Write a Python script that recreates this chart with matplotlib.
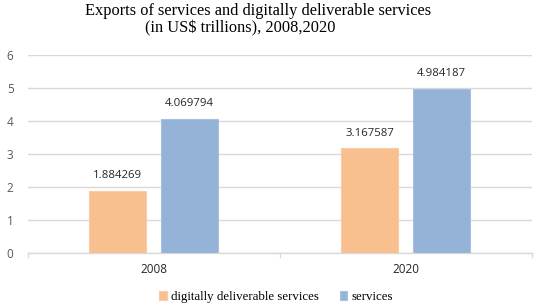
import matplotlib.pyplot as plt
import numpy as np

years = ['2008', '2020']
digital = [1.884269, 3.167587]
services = [4.069794, 4.984187]
labels = ['digitally deliverable services', 'services']

orange = '#F8C08F'
blue = '#95B3D7'

fig = plt.figure(figsize=(5.36, 3.08), dpi=100)
ax = fig.add_axes([27.5 / 536, 1 - 253 / 308, 504 / 536, 198 / 308])

x = np.arange(len(years))
w = 0.226
off = 0.142
b1 = ax.bar(x - off, digital, w, color=orange, edgecolor='#F9CCA5', linewidth=0.8, label=labels[0], zorder=3)
b2 = ax.bar(x + off, services, w, color=blue, edgecolor='#A9C1DF', linewidth=0.8, label=labels[1], zorder=3)

for bars, vals in ((b1, digital), (b2, services)):
    for r, v in zip(bars, vals):
        ax.annotate(f'{v:.6f}', (r.get_x() + r.get_width() / 2, v), xytext=(0, 7),
                    textcoords='offset points', ha='center', va='bottom',
                    fontsize=8.2, color='#262626', family='Open Sans')

ax.set_xlim(-0.5, 1.5)
ax.set_ylim(0, 6)
ax.set_yticks(range(7))
ax.yaxis.grid(True, color='#D9D9D9', linewidth=1, zorder=0)
ax.set_xticks(x)
ax.set_xticklabels(years, fontsize=8.5, color='#262626', family='Open Sans')
ax.tick_params(axis='x', length=0, pad=7)
ax.tick_params(axis='y', length=0, pad=10, labelsize=8.5, labelcolor='#595959')
for t in ax.get_yticklabels():
    t.set_family('Open Sans')
for s in ('top', 'right', 'left'):
    ax.spines[s].set_visible(False)
ax.spines['bottom'].set_color('#D9D9D9')
ax.spines['bottom'].set_linewidth(1)
for xb in (-0.5, 0.5, 1.5):
    ax.plot([xb, xb], [0, -0.12], color='#D9D9D9', lw=1, clip_on=False)

fig.text(258 / 536, 1 - 15 / 308, 'Exports of services and digitally deliverable services',
         ha='center', va='baseline', fontsize=11.8, family='Liberation Serif', color='#000000')
fig.text(240 / 536, 1 - 32 / 308, '(in US$ trillions), 2008,2020',
         ha='center', va='baseline', fontsize=11.8, family='Liberation Serif', color='#000000')

fig.legend(loc='center', bbox_to_anchor=(276 / 536, 1 - 297 / 308), ncol=2, frameon=False,
           prop={'family': 'Liberation Serif', 'size': 9.3}, handlelength=0.6, handleheight=0.6,
           handletextpad=0.3, columnspacing=1.6, borderpad=0)

fig.savefig('out.png', dpi=100)
